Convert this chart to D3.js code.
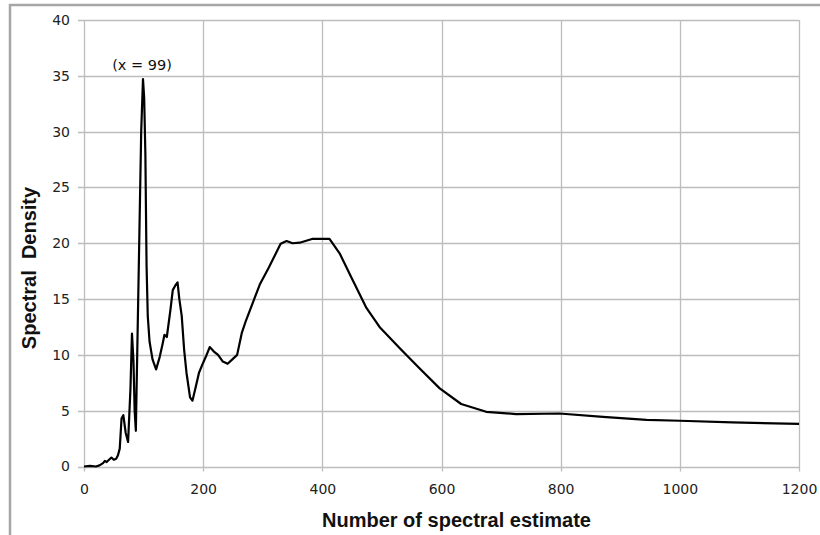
<!DOCTYPE html>
<html>
<head>
<meta charset="utf-8">
<script src="https://cdn.jsdelivr.net/npm/d3@7"></script>
<style>
  body { margin: 0; background: #fff; }
  .tick text { font-family: "DejaVu Sans", sans-serif; font-size: 14px; fill: #222; }
  .axis-title { font-family: "Liberation Sans", Arial, sans-serif; font-weight: bold; font-size: 20px; fill: #111; }
</style>
</head>
<body>
<div id="chart"></div>
<script>
var svgWidth = 820;
var svgHeight = 535;

var margin = { top: 20, right: 21, bottom: 68.5, left: 84 };
var width = svgWidth - margin.left - margin.right;
var height = svgHeight - margin.top - margin.bottom;

// spectral estimate number (x) and spectral density (y)
var estimates = [0, 10, 20, 26, 32, 35, 38, 42, 46, 50, 54, 57, 60, 63, 66, 70, 74, 78, 80.5, 83, 85, 87,
    93, 96, 99, 101, 103, 105, 107, 110, 115, 121, 127, 132, 135, 139, 145, 149, 153, 157, 160, 164, 168, 172,
    178, 182, 187, 193, 200, 205, 211, 218, 225, 233, 241, 249, 257, 265, 272, 285, 295, 310, 330, 340, 350,
    362, 384, 412, 429, 449, 474, 496, 530, 563, 597, 633, 675, 725, 798, 871, 944, 1000, 1088, 1200];
var density = [0, 0.05, 0, 0.1, 0.3, 0.5, 0.4, 0.6, 0.8, 0.6, 0.7, 1.0, 1.6, 4.3, 4.6, 3.0, 2.2, 7.0, 11.9, 9.5, 5.0, 3.2,
    21, 30, 34.7, 33, 28, 18, 13.5, 11.2, 9.6, 8.7, 9.8, 11, 11.8, 11.6, 14, 15.8, 16.2, 16.5, 15, 13.5, 10.5, 8.4,
    6.2, 5.9, 7.0, 8.4, 9.3, 9.9, 10.7, 10.3, 10.0, 9.4, 9.2, 9.6, 10.0, 12, 13.1, 14.9, 16.3, 17.8, 19.95, 20.2, 20.0,
    20.05, 20.4, 20.4, 19.1, 16.9, 14.2, 12.5, 10.6, 8.8, 7.0, 5.6, 4.9, 4.7, 4.75, 4.45, 4.17, 4.1, 3.96, 3.81];

var xTicks = [0, 200, 400, 600, 800, 1000, 1200];
var yTicks = [0, 5, 10, 15, 20, 25, 30, 35, 40];

var peakLabel = "(x = 99)";
var peakX = 99;

var svg = d3.select("#chart")
    .append("svg")
    .attr("width", svgWidth)
    .attr("height", svgHeight);

// outer frame (only top and left edges show)
svg.append("path")
    .attr("d", "M10,540 L10,5 L830,5")
    .attr("fill", "none")
    .attr("stroke", "#a6a6a6")
    .attr("stroke-width", 2.5);

var chartGroup = svg.append("g")
    .attr("transform", `translate(${margin.left}, ${margin.top})`);

var xLinearScale = d3.scaleLinear().domain([0, 1200]).range([0, width]);
var yLinearScale = d3.scaleLinear().domain([0, 40]).range([height, 0]);

// gridlines
chartGroup.append("g")
    .selectAll("line")
    .data(yTicks)
    .enter()
    .append("line")
    .attr("x1", -6)
    .attr("x2", width)
    .attr("y1", d => Math.round(yLinearScale(d)) + 0.5)
    .attr("y2", d => Math.round(yLinearScale(d)) + 0.5)
    .attr("stroke", "#bdbdbd")
    .attr("stroke-width", 1.3);

chartGroup.append("g")
    .selectAll("line")
    .data(xTicks)
    .enter()
    .append("line")
    .attr("x1", d => Math.round(xLinearScale(d)) + 0.5)
    .attr("x2", d => Math.round(xLinearScale(d)) + 0.5)
    .attr("y1", 0)
    .attr("y2", height + 5)
    .attr("stroke", "#bdbdbd")
    .attr("stroke-width", 1.3);

// axes (labels only, grid draws the lines)
var bottomAxis = d3.axisBottom(xLinearScale).tickValues(xTicks).tickFormat(d3.format("d")).tickSize(0).tickPadding(18);
var leftAxis = d3.axisLeft(yLinearScale).tickValues(yTicks).tickFormat(d3.format("d")).tickSize(0).tickPadding(14);

chartGroup.append("g")
    .attr("transform", `translate(0, ${height})`)
    .call(bottomAxis)
    .call(g => g.select(".domain").remove());

chartGroup.append("g")
    .call(leftAxis)
    .call(g => g.select(".domain").remove());

// spectral density line
var points = estimates.map((x, i) => [x, density[i]]);
var line = d3.line()
    .x(d => xLinearScale(d[0]))
    .y(d => yLinearScale(d[1]));

chartGroup.append("path")
    .datum(points)
    .attr("d", line)
    .attr("fill", "none")
    .attr("stroke", "#000")
    .attr("stroke-width", 2.2)
    .attr("stroke-linejoin", "round");

// peak annotation
chartGroup.append("text")
    .attr("x", xLinearScale(peakX) - 1)
    .attr("y", 50)
    .attr("text-anchor", "middle")
    .attr("font-family", "DejaVu Sans, sans-serif")
    .attr("font-size", "14.5px")
    .attr("fill", "#111")
    .text(peakLabel);

// axis titles
svg.append("text")
    .attr("class", "axis-title")
    .attr("x", margin.left + width / 2 + 15)
    .attr("y", 527)
    .attr("text-anchor", "middle")
    .text("Number of spectral estimate");

svg.append("text")
    .attr("class", "axis-title")
    .attr("transform", "rotate(-90)")
    .attr("x", -268)
    .attr("y", 36)
    .attr("text-anchor", "middle")
    .style("white-space", "pre")
    .text("Spectral  Density");
</script>
</body>
</html>
